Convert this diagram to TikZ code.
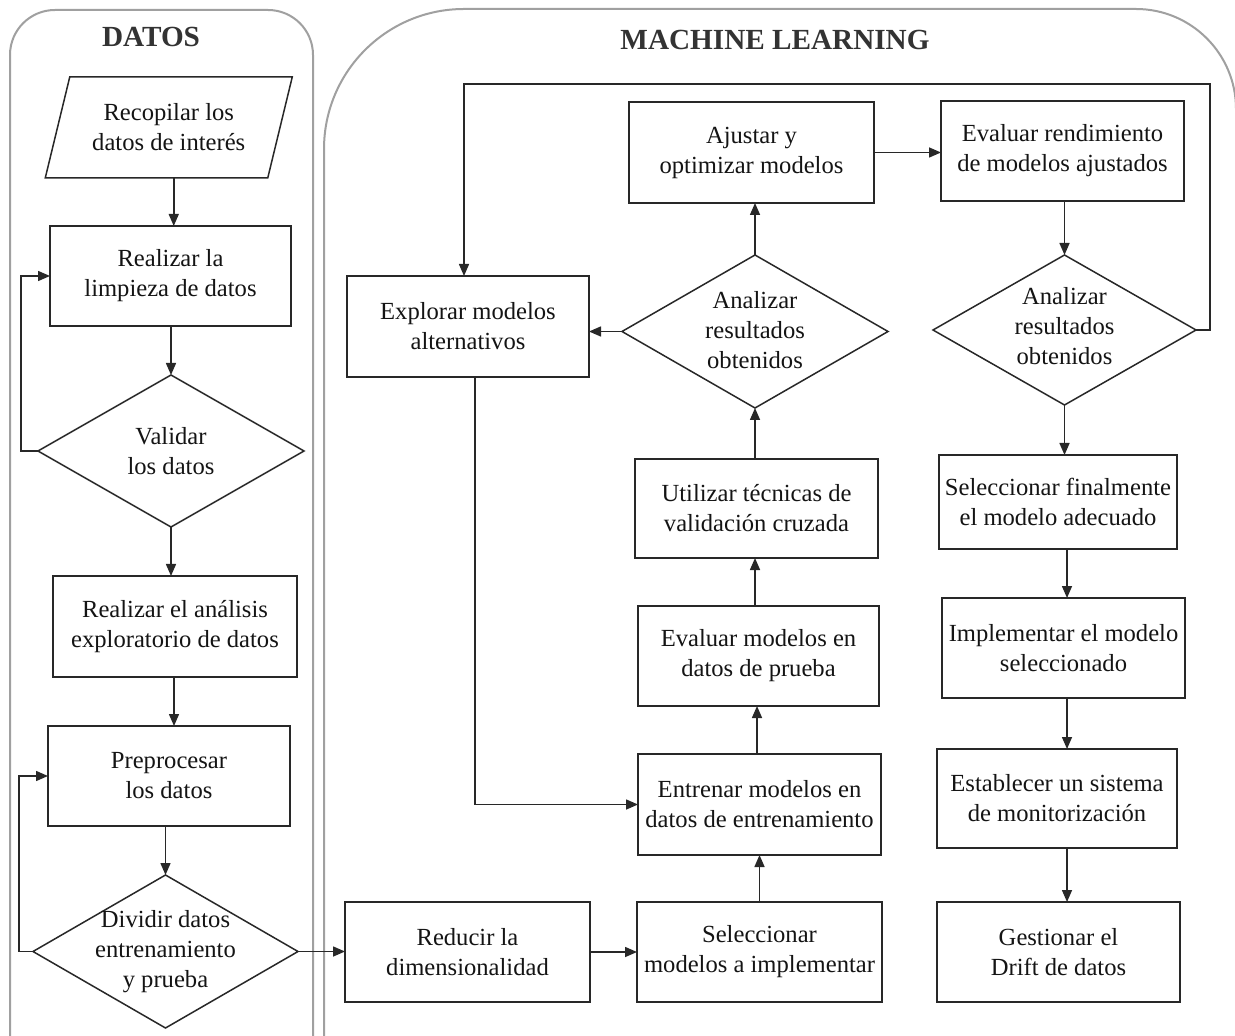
\documentclass[tikz,border=0pt]{standalone}
\usepackage{fontspec}
\setmainfont{Liberation Serif}
\usetikzlibrary{shapes.geometric,arrows.meta}
\definecolor{edge}{RGB}{40,40,40}
\definecolor{contc}{RGB}{160,160,160}
\definecolor{txt}{RGB}{20,20,20}
\tikzset{
  boxn/.style={draw=edge, line width=0.75pt, rectangle, inner sep=0pt, outer sep=0pt, align=center, text=txt,
    font=\fontsize{12.3pt}{15pt}\selectfont},
  plain/.style={inner sep=0pt, outer sep=0pt, align=center, text=txt, font=\fontsize{12.3pt}{15pt}\selectfont},
  dia/.style={draw=edge, line width=0.75pt, diamond, inner sep=0pt, outer sep=0pt},
  arr/.style={draw=edge, line width=0.75pt, -{Triangle[length=6pt,width=5pt]}},
  cont/.style={draw=contc, line width=1pt},
  ttl/.style={inner sep=0pt, text=black!80, font=\fontsize{14.6pt}{17pt}\selectfont\bfseries}
}
\begin{document}
\begin{tikzpicture}[x=0.5pt,y=-0.5pt]
\useasboundingbox (0,0) rectangle (1235,1036);
\fill[white] (0,0) rectangle (1235,1036);
\begin{scope}
\clip (0,0) rectangle (1235,1036);
\draw[cont] (10,1050) -- (10,55) .. controls (10,30.1) and (30.1,10) .. (55,10) -- (268,10) .. controls (292.9,10) and (313,30.1) .. (313,55) -- (313,1050);
\draw[cont] (324,1050) -- (324,149) .. controls (324,71.7) and (386.7,9) .. (464,9) -- (1136,9) .. controls (1191.2,9) and (1236,53.8) .. (1236,109) -- (1236,1050);
\end{scope}
% titles
\node[ttl] (t1) at (151,37) {DATOS};
\node[ttl] (t2) at (775,40) {MACHINE LEARNING};
% DATOS column
\node[plain, minimum width=111.25pt, minimum height=50.5pt] (p1) at (168.75,127.5) {Recopilar los\\datos de interés};
\draw[edge, line width=0.75pt] ([xshift=6.125pt]p1.north west) -- ([xshift=6.125pt]p1.north east) -- ([xshift=-6.125pt]p1.south east) -- ([xshift=-6.125pt]p1.south west) -- cycle;
\node[boxn, minimum width=120.5pt, minimum height=50pt] (limp) at (170.5,276) {Realizar la\\limpieza de datos};
\node[dia, minimum width=133pt, minimum height=76pt] (val) at (171,451) {};
\node[plain] (valt) at (171,451) {Validar\\los datos};
\node[boxn, minimum width=122pt, minimum height=50.5pt] (eda) at (175,626.5) {Realizar el análisis\\exploratorio de datos};
\node[boxn, minimum width=121pt, minimum height=50pt] (pre) at (169,776) {Preprocesar\\los datos};
\node[dia, minimum width=132.5pt, minimum height=76.5pt] (div) at (165.5,951.5) {};
\node[plain] (divt) at (165.5,952) {Dividir datos\\entrenamiento\\y prueba};
% ML
\node[boxn, minimum width=122.5pt, minimum height=50pt] (red) at (467.5,952) {Reducir la\\dimensionalidad};
\node[boxn, minimum width=122.5pt, minimum height=50pt] (sel) at (759.5,952) {Seleccionar\\modelos a implementar};
\node[boxn, minimum width=121.5pt, minimum height=50.5pt] (ent) at (759.5,804.5) {Entrenar modelos en\\datos de entrenamiento};
\node[boxn, minimum width=120.5pt, minimum height=50pt] (evp) at (758.5,656) {Evaluar modelos en\\datos de prueba};
\node[boxn, minimum width=121.5pt, minimum height=49.5pt] (vc) at (756.5,508.5) {Utilizar técnicas de\\validación cruzada};
\node[dia, minimum width=133pt, minimum height=76.5pt] (an1) at (755,331.5) {};
\node[plain] (an1t) at (755,330) {Analizar\\resultados\\obtenidos};
\node[boxn, minimum width=121pt, minimum height=50.5pt] (exp) at (468,326.5) {Explorar modelos\\alternativos};
\node[boxn, minimum width=122.5pt, minimum height=50.5pt] (aj) at (751.5,152.5) {Ajustar y\\optimizar modelos};
\node[boxn, minimum width=121.5pt, minimum height=50pt] (er) at (1062.5,151) {Evaluar rendimiento\\de modelos ajustados};
\node[dia, minimum width=131.5pt, minimum height=75pt] (an2) at (1064.5,330) {};
\node[plain] (an2t) at (1064.5,326) {Analizar\\resultados\\obtenidos};
\node[boxn, minimum width=119pt, minimum height=47pt] (sf) at (1058,502) {Seleccionar finalmente\\el modelo adecuado};
\node[boxn, minimum width=121.5pt, minimum height=50pt] (imp) at (1063.5,648) {Implementar el modelo\\seleccionado};
\node[boxn, minimum width=120pt, minimum height=49.5pt] (mon) at (1057,798.5) {Establecer un sistema\\de monitorización};
\node[boxn, minimum width=121.5pt, minimum height=50pt] (ges) at (1058.5,952) {Gestionar el\\Drift de datos};
\coordinate (loopTR) at (1210,84);
% connectors DATOS
\draw[arr] ([xshift=2.5pt]p1.south) -- ([xshift=2.5pt]p1.south |- limp.north);
\draw[arr] (limp.south -| val.north) -- (val.north);
\draw[arr] (val.west) -- ++(-17,0) |- (limp.west);
\draw[arr] (val.south) -- (val.south |- eda.north);
\draw[arr] (eda.south -| 174,0) -- (pre.north -| 174,0);
\draw[arr] (pre.south -| div.north) -- (div.north);
\draw[arr] (div.west) -- ++(-14,0) |- (pre.west);
\draw[arr] (div.east) -- (div.east -| red.west);
% connectors ML
\draw[arr] (red.east) -- (red.east -| sel.west);
\draw[arr] (sel.north) -- (sel.north |- ent.south);
\draw[arr] (ent.north -| 757,0) -- (evp.south -| 757,0);
\draw[arr] (evp.north -| 755,0) -- (vc.south -| 755,0);
\draw[arr] (vc.north -| an1.south) -- (an1.south);
\draw[arr] (an1.west) -- (an1.west -| exp.east);
\draw[arr] (an1.north) -- (an1.north |- aj.south);
\draw[arr] ([xshift=3.5pt]exp.south) |- (ent.west);
\draw[arr] (aj.east) -- (aj.east -| er.west);
\draw[arr] (er.south -| an2.north) -- (an2.north);
\draw[arr] (an2.east) -| (loopTR) -| ([xshift=-2pt]exp.north);
\draw[arr] (an2.south) -- (an2.south |- sf.north);
\draw[arr] (sf.south -| 1067,0) -- (imp.north -| 1067,0);
\draw[arr] (imp.south -| 1067,0) -- (mon.north -| 1067,0);
\draw[arr] (mon.south -| 1067,0) -- (ges.north -| 1067,0);
\end{tikzpicture}
\end{document}
